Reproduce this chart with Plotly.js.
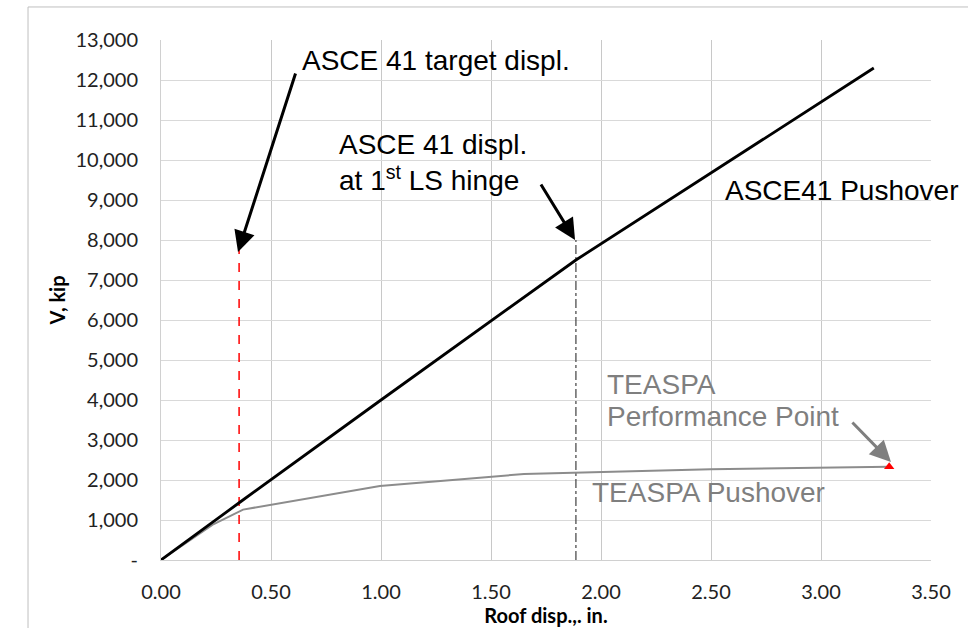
<!DOCTYPE html>
<html><head><meta charset="utf-8">
<script src="https://cdn.plot.ly/plotly-3.0.1.min.js"></script>
<style>html,body{margin:0;padding:0;background:#fff}#c{width:968px;height:628px}</style>
</head><body><div id="c"></div>
<script>
// ASCE 41 pushover curve
const asceX = [0, 0.36, 1.0, 1.886, 3.24];
const asceV = [0, 1450, 4000, 7500, 12300];
// TEASPA pushover curve
const teaspaX = [0, 0.24, 0.373, 0.995, 1.65, 2.5, 3.31];
const teaspaV = [0, 900, 1260, 1850, 2150, 2270, 2330];
// Performance point
const perfX = [3.31];
const perfV = [2330];
// Target displacement (red dashed) and 1st LS hinge (dash-dot)
const targetX = [0.355, 0.355];
const targetV = [0, 7750];
const hingeX = [1.886, 1.886];
const hingeV = [0, 8000];
// Axis ticks
const yTickVals = [0,1000,2000,3000,4000,5000,6000,7000,8000,9000,10000,11000,12000,13000];
const yTickText = ['-','1,000','2,000','3,000','4,000','5,000','6,000','7,000','8,000','9,000','10,000','11,000','12,000','13,000'];
const xTickVals = [0,0.5,1,1.5,2,2.5,3,3.5];
const xTickText = ['0.00','0.50','1.00','1.50','2.00','2.50','3.00','3.50'];

const traces = [
  {x: targetX, y: targetV, mode:'lines', line:{color:'#ff0000', width:1.5, dash:'dash'}, hoverinfo:'skip'},
  {x: hingeX, y: hingeV, mode:'lines', line:{color:'#404040', width:1.2, dash:'dashdot'}, hoverinfo:'skip'},
  {x: teaspaX, y: teaspaV, mode:'lines', line:{color:'#8c8c8c', width:2}},
  {x: asceX, y: asceV, mode:'lines', line:{color:'#000000', width:2.8}},
  {x: perfX, y: perfV, mode:'markers', marker:{symbol:'triangle-up', color:'#ff0000', size:9}}
];

const aFont = {family:'Liberation Sans, Arial, sans-serif', size:28, color:'#000'};
const gFont = {family:'Liberation Sans, Arial, sans-serif', size:28, color:'#7f7f7f'};
const txt = (t, x, y, f) => ({text:t, x:x, y:y, xref:'x', yref:'y', showarrow:false, xanchor:'left', yanchor:'middle', font:f, align:'left'});
const arr = (x, y, ax, ay, c) => ({text:'', x:x, y:y, xref:'x', yref:'y', ax:ax, ay:ay, showarrow:true, arrowhead:2, arrowsize:1.4, arrowwidth:3, arrowcolor:c, standoff:0});

const layout = {
  width:968, height:628,
  margin:{l:161, r:37, t:40, b:68},
  paper_bgcolor:'#fff', plot_bgcolor:'#fff',
  showlegend:false,
  xaxis:{range:[0,3.5], tickvals:xTickVals, ticktext:xTickText, showgrid:true, gridcolor:'#c8c8c8', gridwidth:1,
    showline:true, linecolor:'#d0d0d0', zeroline:false, ticks:'outside', ticklen:14, tickcolor:'rgba(0,0,0,0)',
    tickfont:{family:'Lato, sans-serif', size:20, color:'#222'},
    title:{text:'<b>Roof disp.,. in.</b>', font:{family:'Lato, sans-serif', size:20, color:'#000'}, standoff:1}},
  yaxis:{range:[0,13000], tickvals:yTickVals, ticktext:yTickText, showgrid:true, gridcolor:'#d9d9d9', gridwidth:1,
    showline:true, linecolor:'#d0d0d0', zeroline:false, ticks:'outside', ticklen:18, tickcolor:'rgba(0,0,0,0)',
    tickfont:{family:'Lato, sans-serif', size:20, color:'#222'},
    title:{text:'<b>V, kip</b>', font:{family:'Lato, sans-serif', size:20, color:'#000'}, standoff:4}},
  shapes:[
    {type:'line', xref:'paper', yref:'paper', x0:-0.1727, x1:-0.1727, y0:-0.2, y1:1.0635, line:{color:'#bfbfbf', width:1}},
    {type:'line', xref:'paper', yref:'paper', x0:-0.1727, x1:1.1, y0:1.0635, y1:1.0635, line:{color:'#bfbfbf', width:1}}
  ],
  annotations:[
    txt('ASCE 41 target displ.', 0.63, 12500, aFont),
    txt('ASCE 41 displ.<br>at 1<sup>st</sup> LS hinge', 0.80, 9940, aFont),
    txt('ASCE41 Pushover', 2.555, 9250, aFont),
    txt('TEASPA', 2.018, 4400, gFont),
    txt('Performance Point', 2.018, 3600, gFont),
    txt('TEASPA Pushover', 1.95, 1700, gFont),
    arr(0.35, 7700, 58, -180, '#000'),
    arr(1.882, 8000, -35, -57, '#000'),
    arr(3.318, 2450, -40, -41, '#7f7f7f')
  ]
};
Plotly.newPlot('c', traces, layout, {displayModeBar:false, staticPlot:true});
</script></body></html>
